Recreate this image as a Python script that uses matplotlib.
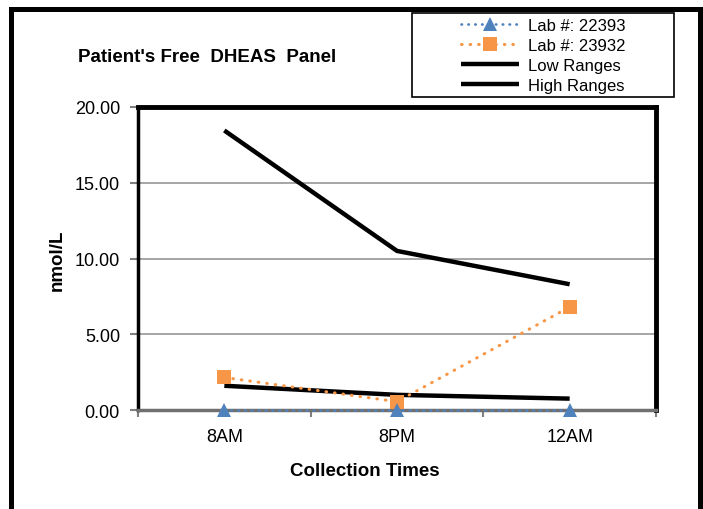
import matplotlib
matplotlib.use("Agg")
import matplotlib.pyplot as plt
from matplotlib.patches import Rectangle
from matplotlib.ticker import FixedLocator

plt.rcParams['font.family'] = ['Liberation Sans', 'DejaVu Sans']

categories = ["8AM", "8PM", "12AM"]
lab_22393 = [0.0, 0.0, 0.0]
lab_23932 = [2.15, 0.55, 6.8]
low_ranges = [1.6, 1.0, 0.75]
high_ranges = [18.45, 10.5, 8.3]
y_ticks = [0, 5, 10, 15, 20]

W, H = 703, 510
fig = plt.figure(figsize=(W / 100, H / 100), dpi=100)

def fx(px):
    return px / W

def fy(py):
    return 1 - py / H

ax = fig.add_axes([fx(138), fy(411), fx(656) - fx(138), fy(108) - fy(411)])

x = list(range(len(categories)))

ax.plot(x, high_ranges, color='black', lw=3.2, label='High Ranges', zorder=3,
        solid_capstyle='butt')
ax.plot(x, low_ranges, color='black', lw=3.2, label='Low Ranges', zorder=3,
        solid_capstyle='butt')
ax.plot(x, lab_23932, color='#F79646', lw=2.2, linestyle=(0, (0.2, 2.6)),
        dash_capstyle='round', marker='s', markersize=9.5, markeredgewidth=0,
        label='Lab #: 23932', zorder=4, clip_on=False)
ax.plot(x, lab_22393, color='#4F81BD', lw=1.9, linestyle=(0, (0.2, 2.4)),
        dash_capstyle='round', marker='^', markersize=10, markeredgewidth=0,
        label='Lab #: 22393', zorder=5, clip_on=False)

ax.set_xlim(-0.5, 2.5)
ax.set_ylim(0, 20)
ax.set_yticks(y_ticks)
ax.set_yticklabels([f"{v:.2f}" for v in y_ticks], fontsize=13)
ax.set_xticks(x)
ax.set_xticklabels(categories, fontsize=13)
ax.xaxis.set_minor_locator(FixedLocator([-0.5, 0.5, 1.5, 2.5]))
ax.tick_params(axis='x', which='major', length=0, pad=13)
ax.tick_params(axis='x', which='minor', length=5, width=1.5, color='#808080', direction='out')
ax.tick_params(axis='y', which='major', length=6, width=1.5, color='#808080', direction='out', pad=7)

ax.grid(axis='y', color='#969696', lw=1.2, zorder=0)
ax.set_axisbelow(True)

for side in ['top', 'right']:
    ax.spines[side].set_color('black')
    ax.spines[side].set_linewidth(3.5)
ax.spines['left'].set_color('black')
ax.spines['left'].set_linewidth(2.5)
ax.spines['bottom'].set_color('#707070')
ax.spines['bottom'].set_linewidth(2.5)

fig.text(fx(78), fy(57), "Patient's Free  DHEAS  Panel", fontsize=13.5, fontweight='bold',
         ha='left', va='center')
fig.text(fx(57), fy(260), "nmol/L", fontsize=13.5, fontweight='bold', rotation=90,
         ha='center', va='center')
fig.text(fx(365), fy(472), "Collection Times", fontsize=13.5, fontweight='bold',
         ha='center', va='center')

# outer chart frame
fig.add_artist(Rectangle((fx(10.5), fy(560)), fx(700) - fx(10.5), fy(9.5) - fy(560),
                         transform=fig.transFigure, fill=False, edgecolor='black',
                         lw=3.6, clip_on=False))

# legend
handles, labels = ax.get_legend_handles_labels()
order = [3, 2, 1, 0]
leg = fig.legend([handles[i] for i in order], [labels[i] for i in order],
                 loc='center', bbox_to_anchor=(fx(543), fy(56.5)),
                 bbox_transform=fig.transFigure, frameon=False, fontsize=12,
                 handlelength=3.5, handletextpad=0.55, labelspacing=0.3,
                 borderpad=0, borderaxespad=0)
fig.add_artist(Rectangle((fx(412), fy(98)), fx(674) - fx(412), fy(14) - fy(98),
                         transform=fig.transFigure, fill=False, edgecolor='black',
                         lw=1.2))

fig.savefig("out.png", dpi=100)
